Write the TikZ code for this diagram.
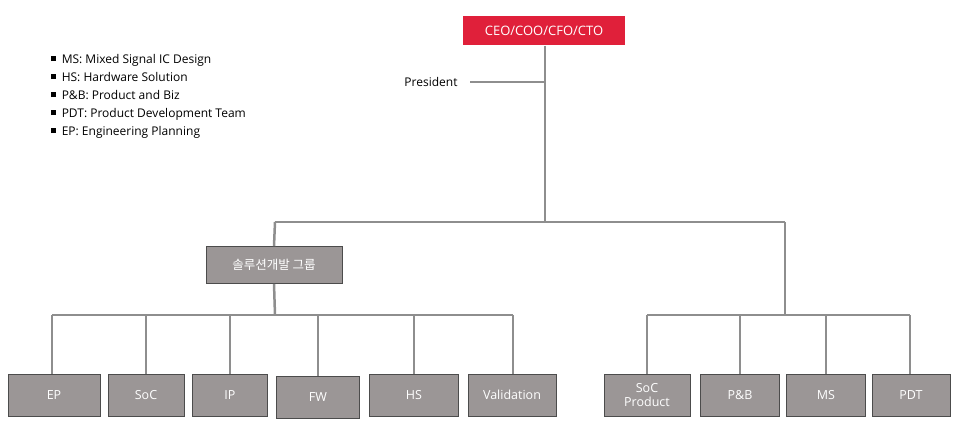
\documentclass[tikz,border=0pt]{standalone}
\usepackage{fontspec}
\setmainfont{Open Sans}
\newfontfamily\krfont{Noto Sans CJK KR}
\usepackage{tikz}
\definecolor{ceored}{HTML}{E0203A}
\definecolor{boxgray}{HTML}{9B9696}
\definecolor{linegray}{HTML}{8E8E8E}
\tikzset{
  unit/.style={draw=black!70, line width=0.6pt, fill=boxgray, text=white, font=\fontsize{12.5}{14}\selectfont,
    minimum height=42pt, inner sep=1pt, align=center},
  link/.style={draw=linegray, line width=2.5pt}
}
\begin{document}
\begin{tikzpicture}[x=1pt,y=-1pt]
\useasboundingbox (0,0) rectangle (955,422);

% legend
\node[anchor=north west, align=left, font=\fontsize{12}{18}\selectfont] (legend) at (47,51)
  {\rule[0.2em]{5pt}{5pt}\ \ MS: Mixed Signal IC Design\\
   \rule[0.2em]{5pt}{5pt}\ \ HS: Hardware Solution\\
   \rule[0.2em]{5pt}{5pt}\ \ P\&B: Product and Biz\\
   \rule[0.2em]{5pt}{5pt}\ \ PDT: Product Development Team\\
   \rule[0.2em]{5pt}{5pt}\ \ EP: Engineering Planning};

% top
\node[fill=ceored, text=white, minimum width=162pt, minimum height=29pt, font=\fontsize{13}{14}\selectfont] (ceo) at (544,31) {CEO/COO/CFO/CTO};
\node[font=\fontsize{12}{14}\selectfont] (pres) at (431,82) {President};
\coordinate (presend) at (470,82);
\coordinate (hub) at (545,222);
\coordinate (hubl) at (275,222);
\coordinate (hubr) at (785,222);
\draw[link] (ceo.south -| hub) -- (hub);
\draw[link] (presend) -- (545,82);
\draw[link] (hubl) -- (hubr);

% solution group
\node[unit, minimum width=136pt, minimum height=37pt] (sol) at (274,265) {\krfont 솔루션개발 그룹};
\draw[link] (hubl) -- (sol.north);
\coordinate (barl) at (275,315);
\draw[link] (sol.south) -- (barl);
\draw[link] (52,315) -- (513,315);

\node[unit, minimum width=92pt] (ep) at (54,395) {EP};
\node[unit, minimum width=76pt] (soc) at (146,395) {SoC};
\node[unit, minimum width=75pt] (ip) at (230,395) {IP};
\node[unit, minimum width=83pt] (fw) at (318,397) {FW};
\node[unit, minimum width=89pt] (hs) at (414,395) {HS};
\node[unit, minimum width=88pt] (val) at (512,395) {Validation};
\foreach \n/\x in {ep/52,soc/146,ip/230,fw/318,hs/414,val/513}
  \draw[link] (\x,315) -- (\n.north -| \x,0);

% right branch
\coordinate (barr) at (785,315);
\draw[link] (hubr) -- (barr);
\draw[link] (647,315) -- (910,315);
\node[unit, minimum width=86pt] (socp) at (647,395) {SoC\\Product};
\node[unit, minimum width=79pt] (pb) at (740,395) {P\&B};
\node[unit, minimum width=79pt] (ms) at (826,395) {MS};
\node[unit, minimum width=78pt] (pdt) at (911,395) {PDT};
\foreach \n/\x in {socp/647,pb/740,ms/826,pdt/910}
  \draw[link] (\x,315) -- (\n.north -| \x,0);
\end{tikzpicture}
\end{document}
